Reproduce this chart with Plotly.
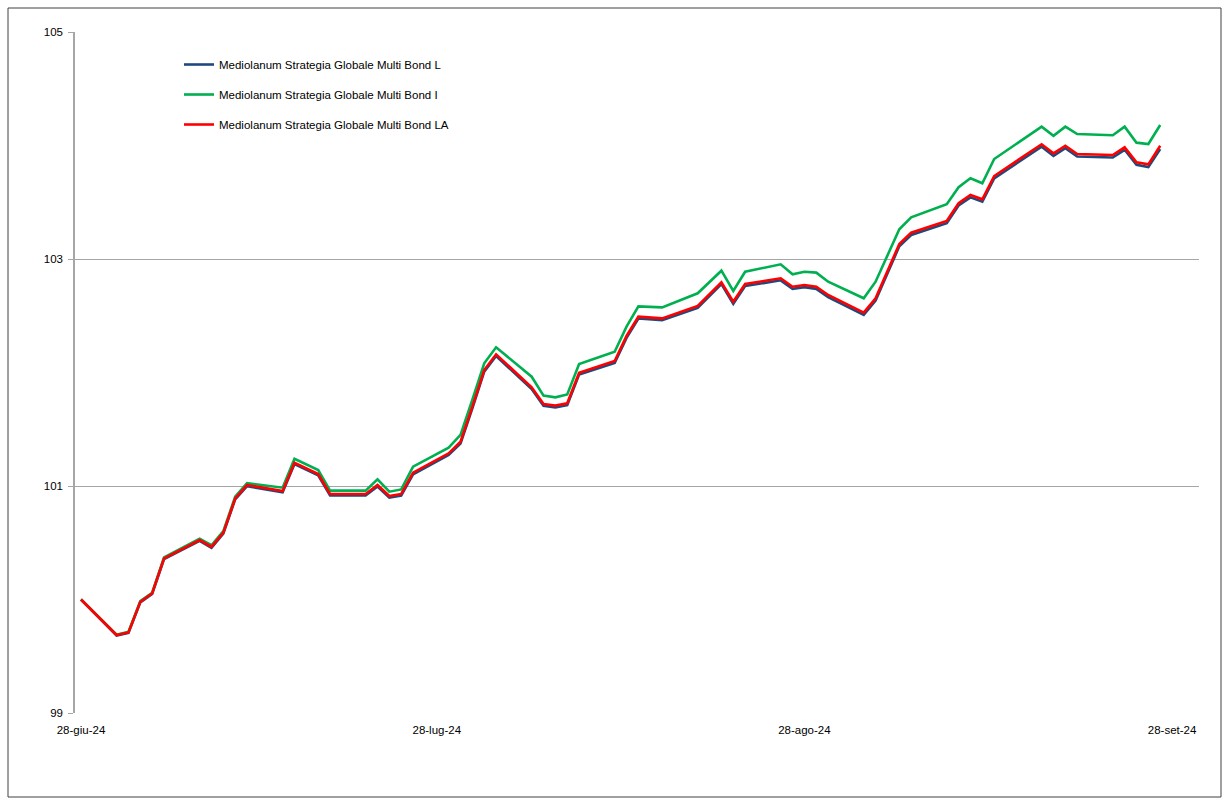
import plotly.graph_objects as go

dates = ["2024-06-28","2024-07-01","2024-07-02","2024-07-03","2024-07-04","2024-07-05",
         "2024-07-08","2024-07-09","2024-07-10","2024-07-11","2024-07-12","2024-07-15",
         "2024-07-16","2024-07-18","2024-07-19","2024-07-22","2024-07-23","2024-07-24",
         "2024-07-25","2024-07-26","2024-07-29","2024-07-30","2024-07-31","2024-08-01",
         "2024-08-02","2024-08-05","2024-08-06","2024-08-07","2024-08-08","2024-08-09",
         "2024-08-12","2024-08-13","2024-08-14","2024-08-16","2024-08-19","2024-08-21",
         "2024-08-22","2024-08-23","2024-08-26","2024-08-27","2024-08-28","2024-08-29",
         "2024-08-30","2024-09-02","2024-09-03","2024-09-05","2024-09-06","2024-09-09",
         "2024-09-10","2024-09-11","2024-09-12","2024-09-13","2024-09-17","2024-09-18",
         "2024-09-19","2024-09-20","2024-09-23","2024-09-24","2024-09-25","2024-09-26",
         "2024-09-27"]

bond_L = [100.00, 99.683, 99.705, 99.975, 100.049, 100.356,
          100.516, 100.456, 100.58, 100.882, 100.999, 100.945,
          101.194, 101.094, 100.917, 100.917, 100.996, 100.898,
          100.916, 101.103, 101.274, 101.375, 101.684, 102.007,
          102.145, 101.855, 101.707, 101.692, 101.713, 101.982,
          102.085, 102.305, 102.476, 102.46, 102.569, 102.778,
          102.606, 102.762, 102.812, 102.737, 102.752, 102.737,
          102.664, 102.507, 102.634, 103.112, 103.212, 103.316,
          103.471, 103.543, 103.505, 103.71, 103.99, 103.909,
          103.976, 103.903, 103.894, 103.962, 103.83, 103.811,
          103.968]

bond_I = [100.00, 99.69, 99.715, 99.985, 100.06, 100.37,
          100.535, 100.478, 100.602, 100.905, 101.025, 100.985,
          101.24, 101.141, 100.959, 100.959, 101.059, 100.95,
          100.97, 101.17, 101.338, 101.45, 101.76, 102.081,
          102.222, 101.963, 101.796, 101.781, 101.807, 102.075,
          102.183, 102.404, 102.583, 102.574, 102.698, 102.897,
          102.718, 102.888, 102.953, 102.865, 102.888, 102.88,
          102.80, 102.654, 102.80, 103.262, 103.367, 103.482,
          103.632, 103.711, 103.667, 103.881, 104.166, 104.086,
          104.166, 104.101, 104.09, 104.166, 104.025, 104.013,
          104.181]

bond_LA = [100.00, 99.687, 99.71, 99.98, 100.055, 100.363,
           100.524, 100.465, 100.589, 100.891, 101.009, 100.956,
           101.205, 101.106, 100.93, 100.93, 101.009, 100.912,
           100.93, 101.117, 101.288, 101.39, 101.699, 102.022,
           102.16, 101.87, 101.722, 101.708, 101.729, 101.998,
           102.101, 102.322, 102.492, 102.477, 102.586, 102.795,
           102.624, 102.78, 102.83, 102.756, 102.771, 102.756,
           102.683, 102.527, 102.654, 103.132, 103.232, 103.335,
           103.491, 103.564, 103.526, 103.731, 104.011, 103.931,
           103.998, 103.925, 103.916, 103.984, 103.852, 103.834,
           103.998]

series_names = ["Mediolanum Strategia Globale Multi Bond L",
                "Mediolanum Strategia Globale Multi Bond I",
                "Mediolanum Strategia Globale Multi Bond LA"]
series_colors = ["#1F497D", "#00B050", "#FF0000"]

x_tick_vals = ["2024-06-28", "2024-07-28", "2024-08-28", "2024-09-28"]
x_tick_text = ["28-giu-24", "28-lug-24", "28-ago-24", "28-set-24"]
y_tick_vals = [99, 101, 103, 105]

FONT = "Liberation Sans, Arial, sans-serif"

fig = go.Figure()
for i, (name, vals, col) in enumerate(zip(series_names, [bond_L, bond_I, bond_LA], series_colors)):
    fig.add_trace(go.Scatter(x=dates, y=vals, mode="lines", name=name,
                             legendgroup=f"g{i}",
                             line=dict(color=col, width=2.6)))

W, H = 1229, 805
L, R, T, B = 75, 1199, 32, 713
pw, ph = R - L, B - T

def px(xp):
    return (xp - L) / pw

def py(yp):
    return (B - yp) / ph

fig.update_layout(
    width=W, height=H,
    margin=dict(l=L, r=W - R, t=T, b=H - B, pad=0),
    paper_bgcolor="white", plot_bgcolor="white",
    font=dict(family=FONT, size=12, color="#000000"),
    showlegend=True,
    legend=dict(x=px(179), y=py(50), xanchor="left", yanchor="top",
                bgcolor="rgba(0,0,0,0)", borderwidth=0,
                font=dict(family=FONT, size=11.5, color="#000000"),
                tracegroupgap=11, itemwidth=30),
    xaxis=dict(type="date",
               range=["2024-06-27 11:50", "2024-09-30 06:30"],
               tickmode="array", tickvals=x_tick_vals, ticktext=x_tick_text,
               showgrid=False, zeroline=False,
               showline=False, ticks="", ticklen=0,
               ticklabelstandoff=8,
               tickfont=dict(family=FONT, size=11.5, color="#000000")),
    yaxis=dict(range=[99, 105], tickmode="array", tickvals=y_tick_vals,
               showgrid=True, gridcolor="#A6A6A6", gridwidth=1,
               zeroline=False, showline=True, linecolor="#A6A6A6", linewidth=1.5,
               ticks="outside", ticklen=5, tickcolor="#A6A6A6",
               ticklabelstandoff=3,
               tickfont=dict(family=FONT, size=11.5, color="#000000")),
    shapes=[dict(type="rect", xref="paper", yref="paper",
                 x0=px(8), x1=px(1221), y0=py(797), y1=py(8),
                 line=dict(color="#404040", width=1), fillcolor="rgba(0,0,0,0)",
                 layer="below")],
)

fig.write_html("out.html")
